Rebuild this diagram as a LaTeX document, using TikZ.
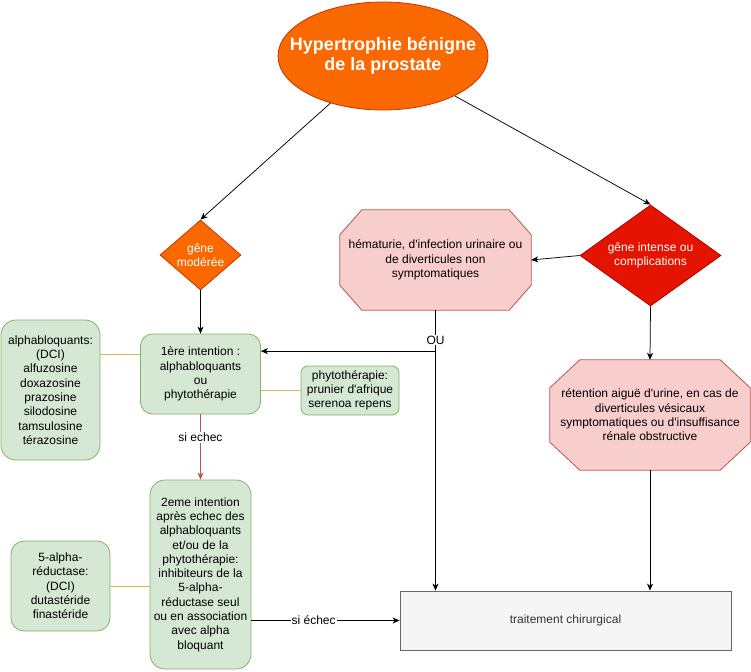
\documentclass[tikz,border=0pt]{standalone}
\usepackage{fontspec}
\setmainfont{Liberation Sans}[Ligatures=TeXOff]
\usetikzlibrary{shapes.geometric,arrows.meta,backgrounds,calc}
\definecolor{orng}{HTML}{FA6800}
\definecolor{orngd}{HTML}{C73500}
\definecolor{redf}{HTML}{E51400}
\definecolor{redd}{HTML}{B20000}
\definecolor{pinkf}{HTML}{F8CECC}
\definecolor{pinkd}{HTML}{B85450}
\definecolor{grnf}{HTML}{D5E8D4}
\definecolor{grnd}{HTML}{82B366}
\definecolor{yel}{HTML}{D6B656}
\definecolor{grayf}{HTML}{F5F5F5}
\definecolor{grayd}{HTML}{666666}
\definecolor{txtg}{HTML}{333333}
\begin{document}
\begin{tikzpicture}[x=1pt,y=-1pt,
  txt/.style={font=\fontsize{12}{14.3}\selectfont, align=center, inner sep=0pt},
  greenbox/.style={txt, draw=grnd, fill=grnf, line width=0.8pt},
  octfill/.style={draw=pinkd, fill=pinkf, line width=0.8pt},
  arr/.style={-{Stealth[length=7pt,width=6pt,inset=2pt]}, line width=0.75pt},
  yline/.style={draw=yel, line width=0.8pt},
  lbl/.style={txt, fill=white, inner sep=1pt}
  ]
\useasboundingbox (0,0) rectangle (751,671);

% title
\node[ellipse, draw=orngd, fill=orng, line width=0.8pt, minimum width=210pt, minimum height=108pt, inner sep=0pt] (title) at (383,56) {};
\node[txt, text=white, font=\bfseries\fontsize{18}{20.5}\selectfont] (titletxt) at (title.center) {Hypertrophie bénigne\\de la prostate};

% diamonds
\node[diamond, draw=orngd, fill=orng, line width=0.8pt, minimum width=81pt, minimum height=70pt, inner sep=0pt] (d1) at (200.5,255) {};
\node[txt, text=white] (d1txt) at (d1.center) {gêne\\modérée};
\node[diamond, draw=redd, fill=redf, line width=0.8pt, minimum width=141pt, minimum height=101pt, inner sep=0pt] (d2) at (650.5,255.5) {};
\node[txt, text=white] (d2txt) at (d2.center) {gêne intense ou\\complications};

% octagons
\node[txt, minimum width=191pt, minimum height=100pt] (o1) at (435.5,260) {hématurie, d'infection urinaire ou\\de diverticules non\\symptomatiques};
\node[txt, minimum width=200pt, minimum height=110pt] (o2) at (650,415) {rétention aiguë d'urine, en cas de\\diverticules vésicaux\\symptomatiques ou d'insuffisance\\rénale obstructive};
\begin{scope}[on background layer]
\draw[octfill] ([xshift=22pt]o1.north west) -- ([xshift=-22pt]o1.north east) -- ([yshift=-25pt]o1.north east) -- ([yshift=25pt]o1.south east) -- ([xshift=-22pt]o1.south east) -- ([xshift=22pt]o1.south west) -- ([yshift=25pt]o1.south west) -- ([yshift=-25pt]o1.north west) -- cycle;
\draw[octfill] ([xshift=30pt]o2.north west) -- ([xshift=-30pt]o2.north east) -- ([yshift=-28pt]o2.north east) -- ([yshift=28pt]o2.south east) -- ([xshift=-30pt]o2.south east) -- ([xshift=30pt]o2.south west) -- ([yshift=28pt]o2.south west) -- ([yshift=-28pt]o2.north west) -- cycle;
\end{scope}

% green boxes
\node[greenbox, rounded corners=12pt, minimum width=120pt, minimum height=80pt] (first) at (200.5,374) {1ère intention :\\alphabloquants\\ou\\phytothérapie};
\node[greenbox, rounded corners=15pt, minimum width=99pt, minimum height=140pt] (alpha) at (50.5,390) {alphabloquants:\\(DCI)\\alfuzosine\\doxazosine\\prazosine\\silodosine\\tamsulosine\\térazosine};
\node[greenbox, rounded corners=7pt, minimum width=98pt, minimum height=49pt] (phyto) at (350,390.5) {phytothérapie:\\prunier d'afrique\\serenoa repens};
\node[greenbox, rounded corners=15pt, minimum width=101pt, minimum height=189pt] (s2) at (200.5,574.5) {2eme intention\\après echec des\\alphabloquants\\et/ou de la\\phytothérapie:\\inhibiteurs de la\\5-alpha-\\réductase seul\\ou en association\\avec alpha\\bloquant};
\node[greenbox, rounded corners=13pt, minimum width=99pt, minimum height=90pt] (fa) at (60.5,586) {5-alpha-\\réductase:\\(DCI)\\dutastéride\\finastéride};

% surgery
\node[txt, draw=grayd, fill=grayf, text=txtg, line width=0.8pt, minimum width=331pt, minimum height=59pt] (trait) at (565.5,620.5) {traitement chirurgical};

% connectors
\draw[arr] (title) -- (d1.north);
\draw[arr] (title) -- (d2.north);
\draw[arr] (d2.west) -- (o1.east);
\draw[arr] (d2.south) -- (o2.north);
\draw[arr] (d1.south) -- (first.north);
\draw[arr] (o1.south) -- node[lbl, pos=0.107] (ou) {OU} coordinate[pos=0.146] (j) (o1.south |- trait.north);
\draw[arr] (j) -- (first.east |- j);
\draw[arr] (o2.south) -- (o2.south |- trait.north);
\draw[arr, draw=pinkd] (first.south) -- node[lbl, text=black, pos=0.35] (se1) {si echec} (s2.north);
\draw[arr] (trait.west -| s2.east) -- node[lbl, pos=0.42] (se2) {si échec} (trait.west);

% yellow links
\coordinate (ya) at ([yshift=20pt]first.west);
\draw[yline] (alpha.east |- ya) -- (ya);
\draw[yline] (first.east |- phyto.west) -- (phyto.west);
\draw[yline] (fa.east) -- (s2.west |- fa.east);
\end{tikzpicture}
\end{document}
